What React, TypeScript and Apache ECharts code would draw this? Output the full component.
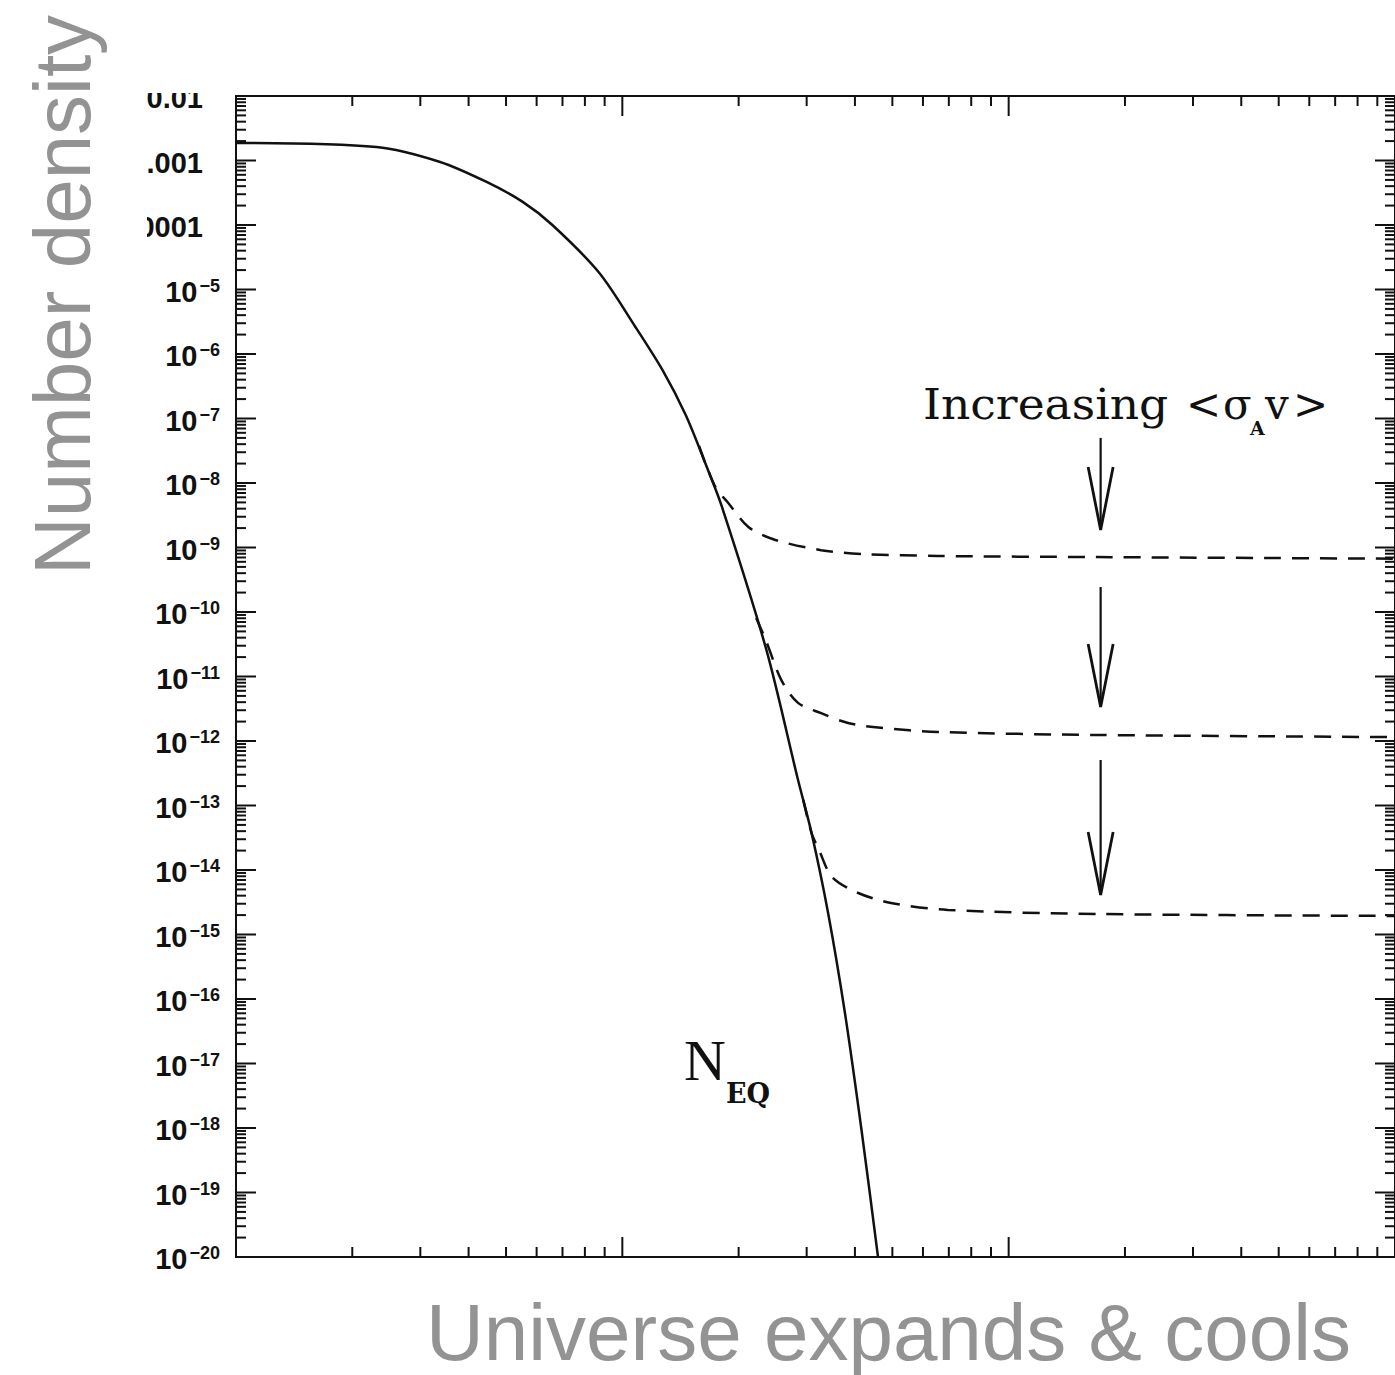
import React, { useEffect, useRef } from "react";
import * as echarts from "echarts";

// Axis extents (log-log)
const xMin = 1;
const xMax = 1000;
const yMin = 1e-20;
const yMax = 1e-2;

// Equilibrium number density N_EQ
const eqX = [1, 2.31, 3.36, 4.44, 5.51, 6.59, 8.7, 10.8, 12.7, 14.6, 16.4, 18.1, 23.6, 28.5, 30.9, 34.1, 37.7, 41.6, 45.9];
const eqY = [1.87e-3, 1.62e-3, 9.58e-4, 4.69e-4, 2.3e-4, 1.0e-4, 1.83e-5, 2.65e-6, 5.65e-7, 1.12e-7, 2.02e-8, 4.29e-9, 2.58e-11, 2.48e-13, 3.71e-14, 2.13e-15, 6.0e-17, 9.3e-19, 1.0e-20];

// Relic abundances after freeze-out, for increasing <σv>
const relic1X = [15.8, 17.4, 18.8, 21.2, 24.9, 32.7, 42.5, 65.6, 170, 1000];
const relic1Y = [3.75e-8, 8.7e-9, 4.9e-9, 2.08e-9, 1.31e-9, 9.1e-10, 7.9e-10, 7.4e-10, 7.1e-10, 6.7e-10];

const relic2X = [22.2, 23.5, 25.8, 28.5, 32.7, 38.4, 46.7, 65.6, 170, 1000];
const relic2Y = [8.1e-11, 3.7e-11, 8.8e-12, 3.9e-12, 2.7e-12, 1.9e-12, 1.6e-12, 1.38e-12, 1.24e-12, 1.15e-12];

const relic3X = [29.4, 30.9, 32.3, 34.9, 40.8, 49.6, 69.6, 170, 1000];
const relic3Y = [1.22e-13, 3.71e-14, 2.04e-14, 7.8e-15, 4.4e-15, 3.08e-15, 2.4e-15, 2.08e-15, 1.94e-15];

// Arrows showing the trend with annihilation cross-section
const arrowX = 173;
const arrowTop = [5.0e-8, 2.44e-10, 5.07e-13];
const arrowTip = [1.87e-9, 3.37e-12, 4.09e-15];

// Y tick labels, one per decade from 1e-2 down to 1e-20
const yTickLabels = [
  "0.01", "0.001", "0.0001",
  "10^-5", "10^-6", "10^-7", "10^-8", "10^-9", "10^-10", "10^-11", "10^-12",
  "10^-13", "10^-14", "10^-15", "10^-16", "10^-17", "10^-18", "10^-19", "10^-20",
];

const INK = "#111111";
const GREY = "#939393";

function decades(lo: number, hi: number): number[] {
  const out: number[] = [];
  for (let e = lo; e <= hi; e++) out.push(Math.pow(10, e));
  return out;
}
function minors(lo: number, hi: number): number[] {
  const out: number[] = [];
  for (let e = lo; e < hi; e++) for (let m = 2; m <= 9; m++) out.push(m * Math.pow(10, e));
  return out;
}

const yMajor = decades(-20, -2);
const yMinor = minors(-20, -2);
const xMajor = decades(0, 3);
const xMinor = minors(0, 3);

const pairs = (xs: number[], ys: number[]) => xs.map((x, i) => [x, ys[i]]);

const serifText = (text: string, x: number, y: number, size: number, extra: any = {}) => ({
  type: "text",
  z: 60,
  x,
  y,
  ...extra,
  style: {
    text,
    fontFamily: "DejaVu Serif",
    fontSize: size,
    fill: INK,
    align: "left",
    verticalAlign: "middle",
    ...(extra.style || {}),
  },
});

export default function App() {
  const ref = useRef<HTMLDivElement>(null);

  useEffect(() => {
    if (!ref.current) return;
    const chart = echarts.init(ref.current, undefined, { renderer: "svg" });

    const tickStyle = { stroke: INK, lineWidth: 2 };

    const yTickData = [
      ...yMajor.map((v) => [xMin, v, 1]),
      ...yMinor.map((v) => [xMin, v, 0]),
    ];
    const xTickData = [
      ...xMajor.map((v) => [v, yMin, 1]),
      ...xMinor.map((v) => [v, yMin, 0]),
    ];
    // label i sits at 10^(-2 - i)
    const yLabelData = yTickLabels.map((_, i) => [xMin, Math.pow(10, -2 - i)]);

    const dashed = { color: INK, width: 2.5, type: [17, 11] as number[] };

    chart.setOption({
      animation: false,
      backgroundColor: "#ffffff",
      grid: {
        left: 236,
        top: 96,
        right: -3.5,
        bottom: 118,
        show: true,
        borderColor: INK,
        borderWidth: 2,
        backgroundColor: "transparent",
      },
      xAxis: {
        type: "log",
        logBase: 10,
        min: xMin,
        max: xMax,
        axisLine: { show: false },
        axisTick: { show: false },
        axisLabel: { show: false },
        splitLine: { show: false },
      },
      yAxis: {
        type: "log",
        logBase: 10,
        min: yMin,
        max: yMax,
        axisLine: { show: false },
        axisTick: { show: false },
        axisLabel: { show: false },
        splitLine: { show: false },
      },
      series: [
        {
          name: "N_EQ",
          type: "line",
          data: pairs(eqX, eqY),
          symbol: "none",
          smooth: 0.3,
          lineStyle: { color: INK, width: 2.5 },
          z: 3,
        },
        { name: "relic1", type: "line", data: pairs(relic1X, relic1Y), symbol: "none", smooth: 0.3, lineStyle: dashed, z: 3 },
        { name: "relic2", type: "line", data: pairs(relic2X, relic2Y), symbol: "none", smooth: 0.3, lineStyle: dashed, z: 3 },
        { name: "relic3", type: "line", data: pairs(relic3X, relic3Y), symbol: "none", smooth: 0.3, lineStyle: dashed, z: 3 },
        {
          // ticks on left and right frame
          type: "custom",
          coordinateSystem: "cartesian2d",
          silent: true,
          clip: false,
          z: 4,
          data: yTickData,
          encode: { x: 0, y: 1 },
          renderItem: (_p: any, api: any) => {
            const v = api.value(1);
            const len = api.value(2) === 1 ? 20 : 10;
            const l = api.coord([xMin, v]);
            const r = api.coord([xMax, v]);
            return {
              type: "group",
              children: [
                { type: "line", shape: { x1: l[0], y1: l[1], x2: l[0] + len, y2: l[1] }, style: tickStyle },
                { type: "line", shape: { x1: r[0], y1: r[1], x2: r[0] - len, y2: r[1] }, style: tickStyle },
              ],
            };
          },
        },
        {
          // ticks on bottom and top frame
          type: "custom",
          coordinateSystem: "cartesian2d",
          silent: true,
          clip: false,
          z: 4,
          data: xTickData,
          encode: { x: 0, y: 1 },
          renderItem: (_p: any, api: any) => {
            const v = api.value(0);
            const len = api.value(2) === 1 ? 20 : 10;
            const b = api.coord([v, yMin]);
            const t = api.coord([v, yMax]);
            return {
              type: "group",
              children: [
                { type: "line", shape: { x1: b[0], y1: b[1], x2: b[0], y2: b[1] - len }, style: tickStyle },
                { type: "line", shape: { x1: t[0], y1: t[1], x2: t[0], y2: t[1] + len }, style: tickStyle },
              ],
            };
          },
        },
        {
          // decade labels
          type: "custom",
          coordinateSystem: "cartesian2d",
          silent: true,
          clip: false,
          z: 4,
          data: yLabelData,
          encode: { x: 0, y: 1 },
          renderItem: (params: any, api: any) => {
            const lab = yTickLabels[params.dataIndex];
            const p = api.coord([xMin, api.value(1)]);
            const isPow = lab.indexOf("^") >= 0;
            const text = isPow
              ? "{b|" + lab.split("^")[0] + "}{s|" + lab.split("^")[1].replace("-", "\u2212") + "}"
              : "{b|" + lab + "}";
            return {
              type: "text",
              x: p[0] - (isPow ? 16 : 33),
              y: p[1] + 2,
              style: {
                text,
                align: "right",
                verticalAlign: "middle",
                fill: INK,
                rich: {
                  b: {
                    fontFamily: "Liberation Sans",
                    fontWeight: "bold",
                    fontSize: 29,
                    lineHeight: 30,
                    fill: INK,
                  },
                  s: {
                    fontFamily: "Liberation Sans",
                    fontWeight: "bold",
                    fontSize: 18,
                    lineHeight: 22,
                    verticalAlign: "top",
                    padding: [0, 0, 0, 2],
                    fill: INK,
                  },
                },
              },
            };
          },
        },
        {
          // annotation arrows
          type: "custom",
          coordinateSystem: "cartesian2d",
          silent: true,
          clip: false,
          z: 4,
          data: arrowTop.map((t, i) => [arrowX, t, arrowTip[i]]),
          encode: { x: 0, y: [1, 2] },
          renderItem: (_p: any, api: any) => {
            const top = api.coord([api.value(0), api.value(1)]);
            const tip = api.coord([api.value(0), api.value(2)]);
            const s = { stroke: INK, lineWidth: 2.2, fill: "none" };
            return {
              type: "group",
              children: [
                { type: "line", shape: { x1: top[0], y1: top[1], x2: tip[0], y2: tip[1] }, style: s },
                {
                  type: "polyline",
                  shape: { points: [[tip[0] - 12.5, tip[1] - 63], [tip[0], tip[1]], [tip[0] + 12.5, tip[1] - 63]] },
                  style: { stroke: INK, lineWidth: 2.8, fill: "none" },
                },
              ],
            };
          },
        },
      ],
      graphic: [
        // crop edges of the framed plot
        { type: "rect", z: 50, shape: { x: 0, y: 0, width: 147, height: 1375 }, style: { fill: "#ffffff" } },
        { type: "rect", z: 50, shape: { x: 0, y: 0, width: 1395, height: 93 }, style: { fill: "#ffffff" } },
        {
          type: "text",
          z: 60,
          x: 62,
          y: 295,
          rotation: Math.PI / 2,
          style: {
            text: "Number density",
            fontFamily: "Liberation Sans",
            fontSize: 80,
            fill: GREY,
            align: "center",
            verticalAlign: "middle",
          },
        },
        {
          type: "text",
          z: 60,
          x: 426,
          y: 1332,
          style: {
            text: "Universe expands & cools",
            fontFamily: "Liberation Sans",
            fontSize: 80,
            fill: GREY,
            align: "left",
            verticalAlign: "middle",
          },
        },
        serifText("Increasing", 923, 404, 42, { scaleX: 1.085 }),
        serifText("<", 1186, 404, 42),
        serifText("\u03c3", 1223, 404, 42),
        serifText("A", 1250, 428, 19, { style: { fontWeight: "bold" } }),
        serifText("v", 1265, 404, 42),
        serifText(">", 1293, 404, 42),
        {
          type: "text",
          z: 60,
          x: 684,
          y: 1060,
          style: { text: "N", fontFamily: "Liberation Serif", fontSize: 58, fill: INK, align: "left", verticalAlign: "middle" },
        },
        serifText("EQ", 726, 1093, 27, { style: { fontWeight: "bold" } }),
      ],
    });

    return () => chart.dispose();
  }, []);

  return (
    <div
      ref={ref}
      style={{ position: "absolute", left: 0, top: 0, width: 1395, height: 1375, background: "#ffffff" }}
    />
  );
}
